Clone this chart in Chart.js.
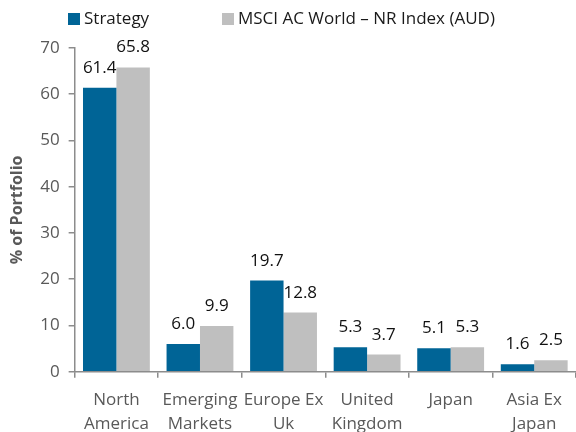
<!DOCTYPE html>
<html><head><meta charset="utf-8">
<script src="https://cdn.jsdelivr.net/npm/chart.js@4"></script>
<style>html,body{margin:0;padding:0;background:#fff;overflow:hidden}#wrap{width:576px;height:446px;position:relative}</style>
</head><body><div id="wrap"><canvas id="c"></canvas></div>
<script>
const categories = [['North','America'],['Emerging','Markets'],['Europe Ex','Uk'],['United','Kingdom'],['Japan'],['Asia Ex','Japan']];
const strategy = [61.4, 6.0, 19.7, 5.3, 5.1, 1.6];
const benchmark = [65.8, 9.9, 12.8, 3.7, 5.3, 2.5];
const seriesNames = ['Strategy', 'MSCI AC World \u2013 NR Index (AUD)'];
const yTicks = [0,10,20,30,40,50,60,70];

const FONT = '"Open Sans", "Liberation Sans", sans-serif';
const BLUE = '#006496', GREY = '#BFBFBF', AXIS = '#8c8c8c', TXT = '#595959';

const labelPlugin = {
  id: 'vals',
  afterDatasetsDraw(chart) {
    const ctx = chart.ctx;
    ctx.save();
    ctx.font = '17px ' + FONT;
    ctx.fillStyle = '#111';
    ctx.textAlign = 'center';
    ctx.textBaseline = 'alphabetic';
    chart.data.datasets.forEach((ds, i) => {
      chart.getDatasetMeta(i).data.forEach((bar, j) => {
        ctx.fillText(ds.data[j].toFixed(1), bar.x, bar.y - 15);
      });
    });
    ctx.restore();
  }
};
const legendPlugin = {
  id: 'leg',
  afterDraw(chart) {
    const ctx = chart.ctx;
    const xs = [68, 222];
    ctx.save();
    ctx.font = '17px ' + FONT;
    ctx.textBaseline = 'middle';
    ctx.textAlign = 'left';
    chart.data.datasets.forEach((ds, i) => {
      ctx.fillStyle = ds.backgroundColor;
      ctx.fillRect(xs[i], 13, 12, 12);
      ctx.fillStyle = '#1a1a1a';
      ctx.fillText(ds.label, xs[i] + 16, 19);
    });
    ctx.restore();
  }
};

new Chart(document.getElementById('c'), {
  type: 'bar',
  data: {
    labels: categories,
    datasets: [
      {label: seriesNames[0], data: strategy, backgroundColor: BLUE},
      {label: seriesNames[1], data: benchmark, backgroundColor: GREY}
    ]
  },
  options: {
    responsive: true, maintainAspectRatio: false, animation: false,
    layout: {padding: {top: 48, right: 0, left: 8, bottom: 0}},
    plugins: {legend: {display: false}, tooltip: {enabled: false}},
    datasets: {bar: {categoryPercentage: 0.8, barPercentage: 1.0}},
    scales: {
      x: {
        grid: {display: true, drawOnChartArea: false, offset: true, color: AXIS, tickLength: 6, lineWidth: 1.5},
        border: {color: AXIS, width: 1.5},
        ticks: {color: TXT, font: {family: FONT, size: 17, lineHeight: 1.42}, padding: 10, maxRotation: 0, autoSkip: false}
      },
      y: {
        min: 0, max: 70,
        afterBuildTicks(s) { s.ticks = yTicks.map(v => ({value: v})); },
        grid: {display: true, drawOnChartArea: false, color: AXIS, tickLength: 6, lineWidth: 1.5},
        border: {color: AXIS, width: 1.5},
        ticks: {color: TXT, font: {family: FONT, size: 17}, padding: 9},
        title: {display: true, text: '% of Portfolio', color: TXT, font: {family: FONT, size: 16, weight: 'bold'}, padding: {top: 0, bottom: 4}}
      }
    }
  },
  plugins: [labelPlugin, legendPlugin]
});
</script></body></html>
